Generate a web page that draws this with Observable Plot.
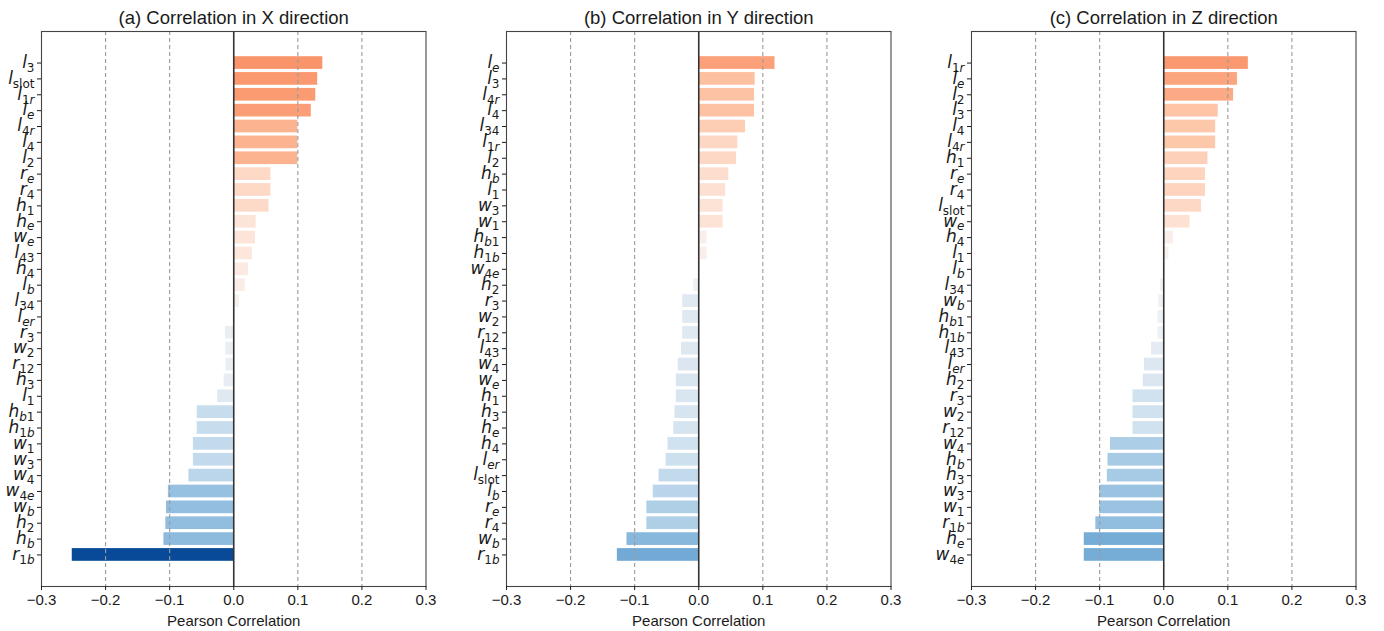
<!DOCTYPE html>
<html><head><meta charset="utf-8">
<script src="https://cdn.jsdelivr.net/npm/d3@7"></script>
<script src="https://cdn.jsdelivr.net/npm/@observablehq/plot@0.6"></script>
<style>
body{margin:0;background:#fff;}
#row{display:flex;width:1384px;height:631px;overflow:hidden;}
#row svg{flex:none;}
</style></head><body><div id="row"></div>
<script>
const titles = ["(a) Correlation in X direction", "(b) Correlation in Y direction", "(c) Correlation in Z direction"];
const xAxisLabel = "Pearson Correlation";
const xTicks = [-0.3, -0.2, -0.1, 0.0, 0.1, 0.2, 0.3];
const gridTicks = [-0.2, -0.1, 0.1, 0.2];

const labelsX = ["l_3","l_slot","l_1r","l_e","l_4r","l_4","l_2","r_e","r_4","h_1","h_e","w_e","l_43","h_4","l_b","l_34","l_er","r_3","w_2","r_12","h_3","l_1","h_b1","h_1b","w_1","w_3","w_4","w_4e","w_b","h_2","h_b","r_1b"];
const valuesX = [0.139,0.131,0.128,0.121,0.100,0.100,0.100,0.058,0.058,0.055,0.035,0.034,0.029,0.023,0.018,0.009,0.002,-0.013,-0.0125,-0.012,-0.015,-0.025,-0.057,-0.057,-0.063,-0.063,-0.070,-0.102,-0.105,-0.106,-0.109,-0.252];

const labelsY = ["l_e","l_3","l_4r","l_4","l_34","l_1r","l_2","h_b","l_1","w_3","w_1","h_b1","h_1b","w_4e","h_2","r_3","w_2","r_12","l_43","w_4","w_e","h_1","h_3","h_e","h_4","l_er","l_slot","l_b","r_e","r_4","w_b","r_1b"];
const valuesY = [0.119,0.088,0.087,0.087,0.073,0.061,0.059,0.047,0.042,0.038,0.038,0.013,0.013,0.002,-0.008,-0.025,-0.025,-0.025,-0.027,-0.032,-0.035,-0.035,-0.037,-0.039,-0.048,-0.051,-0.062,-0.071,-0.081,-0.081,-0.112,-0.127];

const labelsZ = ["l_1r","l_e","l_2","l_3","l_4","l_4r","h_1","r_e","r_4","l_slot","w_e","h_4","l_1","l_b","l_34","w_b","h_b1","h_1b","l_43","l_er","h_2","r_3","w_2","r_12","w_4","h_b","h_3","w_3","w_1","r_1b","h_e","w_4e"];
const valuesZ = [0.132,0.115,0.109,0.085,0.081,0.081,0.069,0.065,0.065,0.059,0.041,0.015,0.008,0.002,-0.005,-0.008,-0.009,-0.009,-0.019,-0.030,-0.032,-0.048,-0.048,-0.048,-0.083,-0.087,-0.088,-0.100,-0.100,-0.106,-0.124,-0.124];

const colorStops = [-0.252,-0.127,-0.100,-0.07,-0.048,-0.02,0,0.03,0.06,0.087,0.10,0.12,0.14];
const colorRange = ["#084a98","#72aad5","#9ac3e1","#bbd6eb","#d0e1ef","#e3eaf2","#f5f5f5","#fde6dc","#fdd8c4","#fdc2a3","#fcb390","#fb9f78","#fa946a"];

const ns = "http://www.w3.org/2000/svg";
function panel(title, labels, values, width) {
  const data = labels.map((k, i) => ({k, v: values[i]}));
  const svg = Plot.plot({
    width, height: 631,
    marginLeft: 41, marginRight: width - 41 - 384.5, marginTop: 31, marginBottom: 45,
    style: {fontFamily: "'Liberation Sans', Arial, sans-serif", fontSize: "15px", color: "#1a1a1a", background: "#fff", overflow: "visible"},
    x: {domain: [-0.3, 0.3]},
    y: {domain: labels, paddingInner: 0.2, paddingOuter: 0, range: [56.2, 560.8], round: false},
    color: {type: "linear", domain: colorStops, range: colorRange, interpolate: "rgb"},
    marks: [
      Plot.barX(data, {x: "v", y: "k", fill: "v"}),
      Plot.ruleX(gridTicks, {stroke: "#9a9a9a", strokeDasharray: "4,3", strokeWidth: 1.1}),
      Plot.ruleX([0], {stroke: "#333", strokeWidth: 1.6}),
      Plot.frame({stroke: "#444", strokeWidth: 1.1}),
      Plot.axisX({ticks: xTicks, tickSize: 4, tickPadding: 4, fontSize: 15, label: null,
        tickFormat: d => d.toFixed(1).replace("-", "\u2212")}),
      Plot.axisY({tickSize: 4, tickPadding: 3, label: null}),
      Plot.text([title], {frameAnchor: "top", lineAnchor: "middle", dy: -13, fontSize: 18.5}),
      Plot.text([xAxisLabel], {frameAnchor: "bottom", lineAnchor: "middle", dy: 35, fontSize: 15})
    ]
  });
  svg.querySelectorAll('g[aria-label="y-axis tick label"] text').forEach(t => {
    const s = t.textContent;
    const [b, sub] = s.split("_");
    t.textContent = "";
    t.setAttribute("font-family", "'DejaVu Sans', sans-serif");
    const t1 = document.createElementNS(ns, "tspan");
    t1.textContent = b;
    t1.setAttribute("font-style", "italic");
    t1.setAttribute("font-size", "17");
    t.appendChild(t1);
    const parts = sub === "slot" ? [["slot", false]] : sub.split("").map(c => [c, /[a-z]/.test(c)]);
    parts.forEach(([c, it], i) => {
      const ts = document.createElementNS(ns, "tspan");
      ts.textContent = c;
      ts.setAttribute("font-size", "12");
      ts.setAttribute("font-style", it ? "italic" : "normal");
      if (i === 0) ts.setAttribute("dy", "0.33em");
      t.appendChild(ts);
    });
  });
  return svg;
}
const row = document.getElementById("row");
row.appendChild(panel(titles[0], labelsX, valuesX, 465));
row.appendChild(panel(titles[1], labelsY, valuesY, 465));
row.appendChild(panel(titles[2], labelsZ, valuesZ, 454));
</script>
</body></html>
